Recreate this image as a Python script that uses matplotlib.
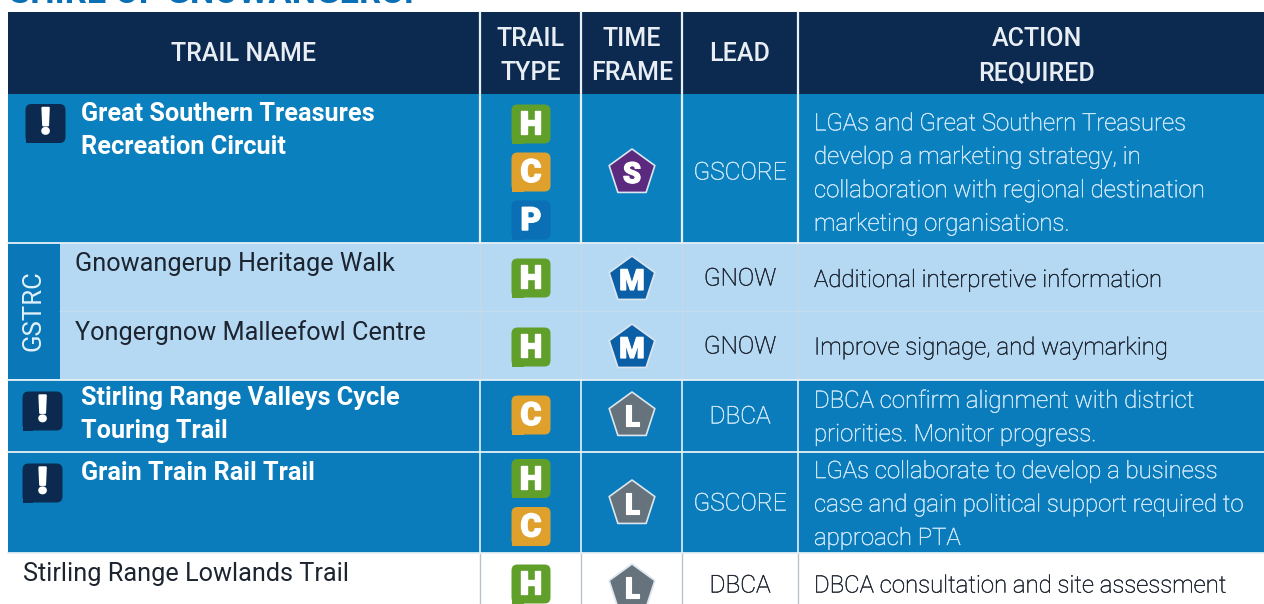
import numpy as np
import matplotlib
matplotlib.use('Agg')
import matplotlib.pyplot as plt
import matplotlib.patheffects as pe
from matplotlib.patches import Rectangle, FancyBboxPatch, Polygon

plt.rcParams['font.family'] = ['Roboto', 'DejaVu Sans']

# table content
title = 'SHIRE OF GNOWANGERUP'
headers = ['TRAIL NAME', 'TRAIL\nTYPE', 'TIME\nFRAME', 'LEAD', 'ACTION\nREQUIRED']
trail_names = ['Great Southern Treasures\nRecreation Circuit',
               'Gnowangerup Heritage Walk',
               'Yongergnow Malleefowl Centre',
               'Stirling Range Valleys Cycle\nTouring Trail',
               'Grain Train Rail Trail',
               'Stirling Range Lowlands Trail']
trail_types = [['H', 'C', 'P'], ['H'], ['H'], ['C'], ['H', 'C'], ['H']]
time_frames = ['S', 'M', 'M', 'L', 'L', 'L']
leads = ['GSCORE', 'GNOW', 'GNOW', 'DBCA', 'GSCORE', 'DBCA']
actions = ['LGAs and Great Southern Treasures\ndevelop a marketing strategy, in\ncollaboration with regional destination\nmarketing organisations.',
           'Additional interpretive information',
           'Improve signage, and waymarking',
           'DBCA confirm alignment with district\npriorities. Monitor progress.',
           'LGAs collaborate to develop a business\ncase and gain political support required to\napproach PTA',
           'DBCA consultation and site assessment']
priority = [True, False, False, True, True, False]
group_label = 'GSTRC'

# layout in pixels
col_x = [8, 480, 581, 682, 798, 1264]
row_y = [94, 243, 311, 380, 452, 553, 604]
DARK = '#0c2a4f'
BLUE = '#0b80bf'
LIGHT = '#b6d9f3'
TEXT = '#1c2430'
PALE = '#d3eafa'
type_colors = {'H': '#5f9f2a', 'C': '#e0a12c', 'P': '#0a6fb5'}
frame_colors = {'S': '#5b2a7e', 'M': '#0a5fa6', 'L': '#66737d'}
row_bg = [BLUE, LIGHT, LIGHT, '#0a7cbc', '#0a7cbc', 'white']
row_fg = ['white', TEXT, TEXT, 'white', 'white', TEXT]
action_fg = [PALE, TEXT, TEXT, PALE, PALE, TEXT]
name_y = [130.5, 264, 333, 414.5, 473, 574]
name_x = [81, 75, 75, 81, 81, 23]
icon_y = [123.5, None, None, 411, 483, None]
icon_x = [45.5, None, None, 42.5, 42.5, None]
badge_y = [172, 278, 347, 415, 502.5, 584]
frame_y = [172, 279, 347, 415, 503, 587]
lead_y = [173, 279, 347, 417, 504, 586]
action_y = [174, 280, 348, 417.5, 505, 586]

fig = plt.figure(figsize=(12.64, 6.04), dpi=100)
ax = fig.add_axes([0, 0, 1, 1])
ax.set_xlim(0, 1264)
ax.set_ylim(604, 0)
ax.axis('off')

ax.text(9, 3, title, color='#0a6fb5', fontsize=24.8, fontweight='bold', va='baseline', ha='left')

# header
ax.add_patch(Rectangle((8, 12), 1256, 82, color=DARK, lw=0))
header_x = [244, 531, 632, 740, 1037]
for i, h in enumerate(headers):
    ax.text(header_x[i], 56 if '\n' in h else 54, h, color='#e8eef4', fontsize=18, fontweight='medium',
            ha='center', va='center', linespacing=1.5)


def heavy(txt, width=0.9, color='white'):
    txt.set_path_effects([pe.withStroke(linewidth=width, foreground=color)])


def badge(x, y, letter):
    # rounded square, bottom left corner stays square
    c = type_colors[letter]
    ax.add_patch(FancyBboxPatch((x - 14.5, y - 14.5), 29, 29, boxstyle='round,pad=5,rounding_size=6', fc=c, ec='none'))
    ax.add_patch(Rectangle((x - 19.5, y + 6), 12, 13.5, color=c, lw=0))
    heavy(ax.text(x, y + 1, letter, color='white', fontsize=23, fontweight='black', ha='center', va='center'), 1.0)


def pentagon(x, y, letter):
    ang = np.deg2rad(-90 + 72 * np.arange(5))
    pts = np.c_[x + 24 * np.cos(ang), y + 24 * np.sin(ang) + 1]
    ax.add_patch(Polygon(pts, closed=True, fc=frame_colors[letter], ec='#dce6ee', lw=1.2, joinstyle='round'))
    heavy(ax.text(x, y + 3, letter, color='white', fontsize=21, fontweight='black', ha='center', va='center'), 0.8)


for i in range(len(trail_names)):
    y0, y1 = row_y[i], row_y[i + 1]
    ax.add_patch(Rectangle((8, y0), 1256, y1 - y0, color=row_bg[i], lw=0))
    weight = 'bold' if priority[i] else 'normal'
    ax.text(name_x[i], name_y[i], trail_names[i], color=row_fg[i], fontsize=18.15 if priority[i] else 18.2, fontweight=weight,
            ha='left', va='center', linespacing=1.45)
    if priority[i]:
        ix, iy = icon_x[i], icon_y[i]
        ax.add_patch(FancyBboxPatch((ix - 15, iy - 14.5), 30, 29, boxstyle='round,pad=5,rounding_size=6', fc=DARK, ec='none'))
        ax.add_patch(Rectangle((ix - 20, iy + 8), 10, 11.5, color=DARK, lw=0))
        heavy(ax.text(ix, iy, '!', color='white', fontsize=26, fontweight='black', ha='center', va='center'), 1.5)
    types = trail_types[i]
    for k, t in enumerate(types):
        badge(531, badge_y[i] + (k - (len(types) - 1) / 2) * 48, t)
    pentagon(632, frame_y[i], time_frames[i])
    heavy(ax.text(740, lead_y[i], leads[i], color=action_fg[i], fontsize=17.6, fontweight='light', ha='center', va='center'),
          0.3, action_fg[i])
    heavy(ax.text(814, action_y[i], actions[i], color=action_fg[i], fontsize=17.25, fontweight='light', ha='left', va='center', linespacing=1.58),
          0.3, action_fg[i])

# GSTRC side strip
ax.add_patch(Rectangle((8, 243), 52, 136, color='#0a78b8', lw=0))
ax.text(34, 311, group_label, color='#e2f0fa', fontsize=18.5, fontweight='normal', rotation=90, ha='center', va='center')

# grid lines
for x in col_x[1:-1]:
    ax.plot([x, x], [12, 243], color='#e6f0f6', lw=1.6)
    ax.plot([x, x], [243, 380], color='#c6d8e6', lw=1)
    ax.plot([x, x], [380, 553], color='#d8e8f2', lw=1.3)
    ax.plot([x, x], [553, 604], color='#b8c2ca', lw=1)
for y in [243, 380, 452, 553]:
    ax.plot([8, 1264], [y, y], color='#e6f0f6', lw=1.3)
ax.plot([60, 1264], [311, 311], color='#c3dcef', lw=1)

fig.savefig('out.png', dpi=100)
